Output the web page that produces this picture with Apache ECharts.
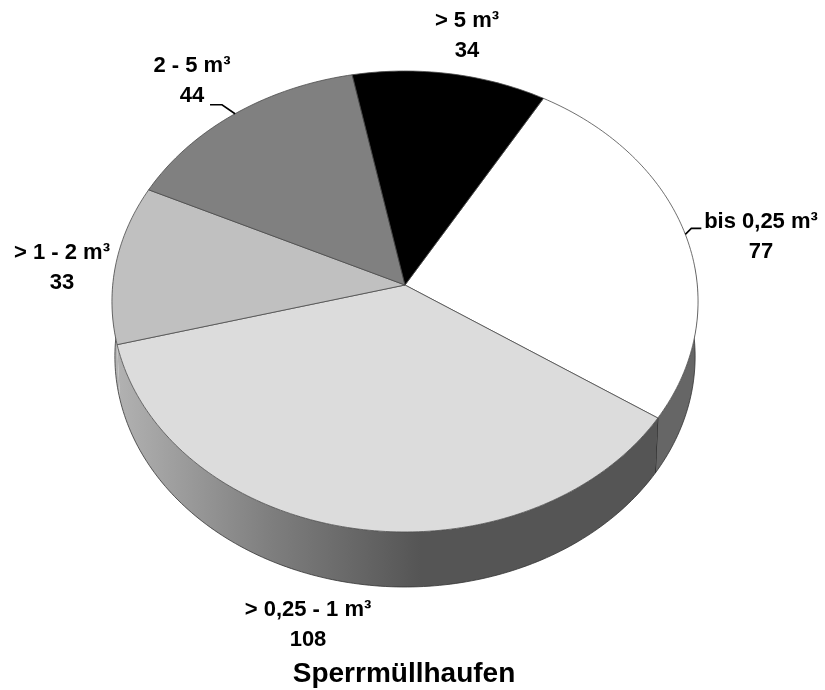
<!DOCTYPE html>
<html><head><meta charset="utf-8">
<style>html,body{margin:0;padding:0;background:#fff}#c{width:825px;height:690px}</style>
<script src="https://cdn.jsdelivr.net/npm/echarts@6/dist/echarts.min.js"></script>
</head><body><div id="c"></div>
<script>
// data
const categories = ['bis 0,25 m³', '> 0,25 - 1 m³', '> 1 - 2 m³', '2 - 5 m³', '> 5 m³'];
const values = [77, 108, 33, 44, 34];
const chartTitle = 'Sperrmüllhaufen';
const faceColors = ['#ffffff', '#dcdcdc', '#c0c0c0', '#808080', '#000000'];

// presentation
const labelCenters = [[761, 222], [308, 610], [62, 253], [192, 66], [467, 21]];
const lineGap = 30;
const leaderElbows = [[[6, -6], [16, -6]], null, null, [[-13, -9], [-25, -9]], null];
const view = { cx: 405, cy: 285, a: 292.3, b: 229.3, p: 0.0716, depth: 55, shrink: 0.99, startDeg: 30.2 };
const labelFont = 'bold 22px "Liberation Sans", Arial, sans-serif';

const total = values.reduce((s, v) => s + v, 0);
const startOf = i => view.startDeg + values.slice(0, i).reduce((s, v) => s + v, 0) / total * 360;

// perspective projection of a point on the tilted disc's rim (or its centre for r = 0)
function project(deg, r = 1) {
  const t = deg * Math.PI / 180, u = r * Math.sin(t), v = r * Math.cos(t), d = 1 + view.p * v;
  return [view.cx + view.a * u / d, view.cy - view.b * v / d];
}
const lower = ([x, y]) => [view.cx + (x - view.cx) * view.shrink, y + view.depth];
function arc(from, to) {
  const pts = [], n = Math.max(2, Math.ceil(Math.abs(to - from)));
  for (let k = 0; k <= n; k++) pts.push(project(from + (to - from) * k / n));
  return pts;
}
const frontGradient = {
  type: 'linear', global: true, x: 116, y: 0, x2: 660, y2: 0,
  colorStops: [{ offset: 0, color: '#b2b2b2' }, { offset: 0.28, color: '#7f7f7f' }, { offset: 0.56, color: '#555555' }, { offset: 1, color: '#555555' }]
};
const wallFill = ['#666666', frontGradient, '#b4b4b4', '#b4b4b4', '#b4b4b4'];
const edge = { stroke: '#4a4a4a', lineWidth: 0.8 };

function renderWall(params, api) {
  const i = api.value(1), s = startOf(i), e = s + api.value(0) / total * 360;
  const from = Math.max(s, 85), to = Math.min(e, 275);
  if (from >= to) return { type: 'group', children: [] };
  const top = arc(from, to), bottom = top.map(lower);
  const children = [
    { type: 'polygon', shape: { points: top.concat(bottom.slice().reverse()) }, style: { fill: wallFill[i] } },
    { type: 'polyline', shape: { points: bottom }, style: { stroke: '#333', lineWidth: 0.8, fill: 'none' } }
  ];
  if (i === 0) children.push({ type: 'line',
    shape: { x1: top[top.length - 1][0], y1: top[top.length - 1][1], x2: bottom[bottom.length - 1][0], y2: bottom[bottom.length - 1][1] },
    style: { stroke: '#1a1a1a', lineWidth: 1 } });
  return { type: 'group', children };
}
function renderFace(params, api) {
  const i = api.value(1), s = startOf(i), span = api.value(0) / total * 360;
  const children = [{ type: 'polygon', shape: { points: [project(0, 0)].concat(arc(s, s + span)) },
    style: Object.assign({ fill: faceColors[i] }, edge) }];
  const [lx, ly] = labelCenters[i];
  [categories[i], String(api.value(0))].forEach((t, k) => children.push({
    type: 'text', z2: 5,
    style: { text: t, x: lx, y: ly + k * lineGap, fill: '#000', font: labelFont, align: 'center', verticalAlign: 'middle' }
  }));
  if (leaderElbows[i]) {
    const m = project(s + span / 2);
    children.push({ type: 'polyline', z2: 4,
      shape: { points: [m].concat(leaderElbows[i].map(o => [m[0] + o[0], m[1] + o[1]])) },
      style: { stroke: '#000', lineWidth: 1.6, fill: 'none' } });
  }
  return { type: 'group', children };
}
const rows = values.map((v, i) => ({ name: categories[i], value: [v, i] }));
const chart = echarts.init(document.getElementById('c'), null, { renderer: 'canvas' });
chart.setOption({
  animation: false,
  backgroundColor: '#fff',
  title: { text: chartTitle, left: 399, top: 655, textAlign: 'center',
    textStyle: { fontFamily: '"Liberation Sans", Arial, sans-serif', fontWeight: 'bold', fontSize: 28, color: '#000' } },
  series: [
    { type: 'custom', coordinateSystem: 'none', z: 1, silent: true, renderItem: renderWall, data: rows },
    { type: 'custom', coordinateSystem: 'none', z: 2, silent: true, renderItem: renderFace, data: rows }
  ]
});
</script></body></html>
